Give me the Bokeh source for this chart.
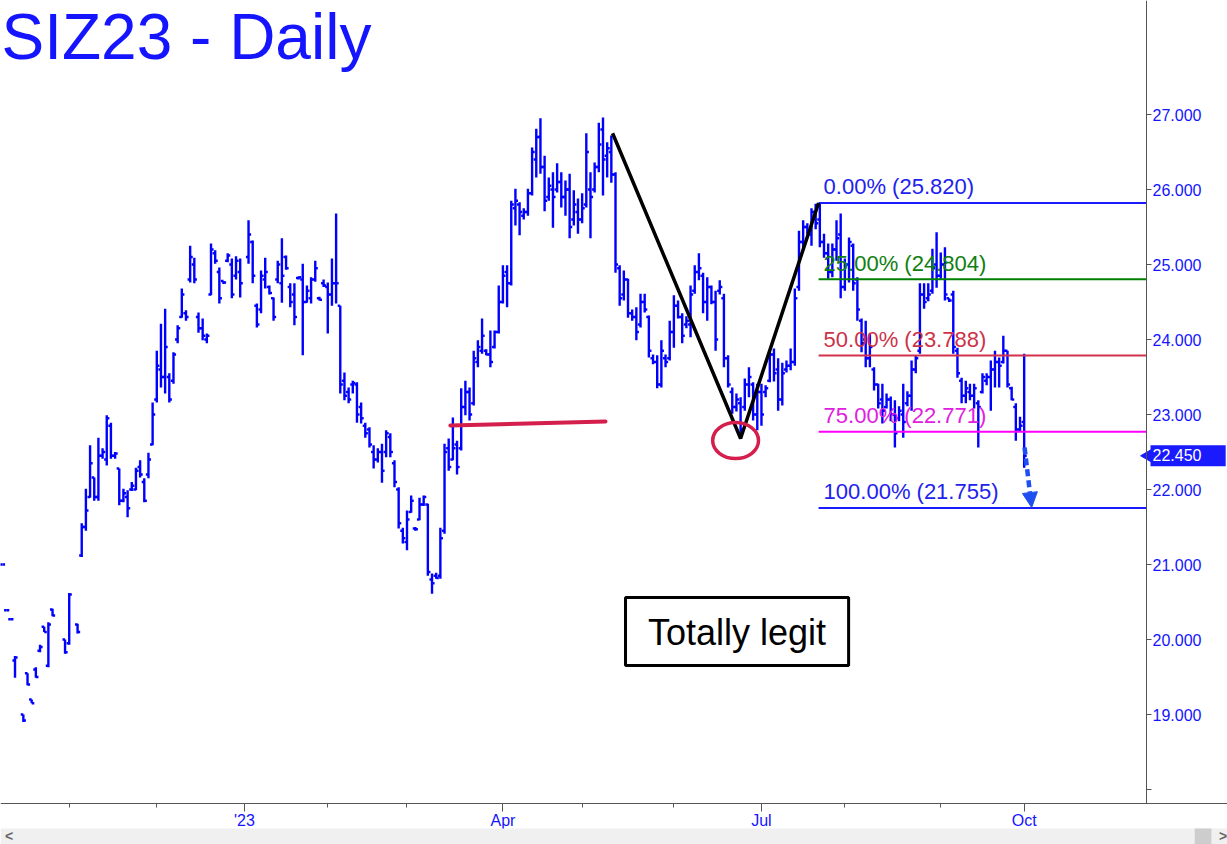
import numpy as np
import pandas as pd
from bokeh.plotting import figure
from bokeh.models import (Range1d, FixedTicker, Label, BoxAnnotation, Arrow,
                          NormalHead, PrintfTickFormatter, ColumnDataSource)
from bokeh.embed import file_html
from bokeh.resources import INLINE

# ---------------- data ----------------
holidays = ["2022-11-24", "2022-12-26", "2023-01-02", "2023-01-16", "2023-02-20",
            "2023-04-07", "2023-05-29", "2023-06-19", "2023-07-04", "2023-09-04"]
dates = pd.bdate_range("2022-10-10", "2023-10-02", freq="C", holidays=holidays)

opens = [
    21.00, 20.39, 20.27, 19.72, None, 19.00, 19.55, 19.20, 19.60, 19.85,
    20.17, 19.65, 20.40, None, None, 20.00, 19.95, None, 20.20, 21.12,
    21.50, 21.90, 22.16, 21.90, 22.45, 22.40, 22.85, 22.45, 22.28, 21.85,
    21.90, 22.00, 22.00, 22.30, 22.10, 22.20, 22.60, 23.20, 23.60, 23.50,
    23.50, 23.45, 24.00, 24.30, 24.35, 24.80, 25.00, 24.30, 24.15, 24.00,
    24.60, 25.15, 24.90, 24.78, 25.05, 25.00, 24.85, 24.90, None, 25.10,
    25.30, 24.45, 24.40, 24.80, 24.70, 24.55, 24.80, 24.75, 25.10, 24.70,
    24.60, 24.82, 24.80, 24.50, 24.55, 24.80, 24.55, 24.75, 24.70, 24.60,
    24.75, 24.45, 23.45, 23.30, 23.40, 23.40, 23.10, 22.85, 22.80, 22.50,
    22.40, 22.50, 22.50, 22.70, 22.35, 22.00, 21.45, 21.30, 21.70, 21.48,
    21.60, 21.80, 21.80, 20.80, 20.85, 20.85, 21.45, 22.55, 22.40, 22.60,
    22.55, 23.10, 23.30, 23.15, 23.70, 23.85, 23.85, 23.80, 23.90, 24.10,
    24.50, 24.90, 24.75, 25.75, 25.80, 25.65, 25.70, 25.95, 26.40, 26.70,
    26.30, 25.90, 26.00, 26.00, 26.10, 25.90, 26.00, 25.60, 25.70, 25.60,
    25.80, 26.00, 26.00, 26.30, 26.80, 26.45, 26.50, 26.20, 24.95, 24.60,
    24.80, 24.35, 24.30, 24.20, 24.50, 24.30, 23.75, 23.70, 23.40, 23.75,
    23.75, 24.10, 24.45, 24.30, 24.20, 24.20, 24.65, 24.90, 24.85, 24.50,
    24.70, 24.50, 24.65, 24.55, 23.75, 23.30, 23.10, 23.15, 23.10, 23.40,
    23.40, 23.00, 23.30, 23.30, 23.45, 23.80, 23.60, 23.20, 23.60, 23.65,
    23.70, 24.70, 25.30, 25.50, 25.40, 25.70, 25.60, 25.30, 25.15, 24.90,
    25.20, 25.40, 24.70, 25.00, 25.25, 24.80, 24.25, 24.00, 23.75, 23.60,
    23.40, 23.20, 23.10, 23.20, 23.00, 22.95, 23.00, 23.15, 23.25, 23.60,
    23.85, 24.60, 24.55, 24.65, 25.00, 24.85, 25.00, 24.55, 24.60, 23.85,
    23.45, 23.25, 23.30, 23.25, 23.15, 23.30, 23.45, 23.50, 23.60, 23.70,
    23.70, 23.85, 23.35, 23.10, 22.80, 22.90,
]
highs = [
    21.00, 20.39, 20.27, 19.78, None, 19.00, 19.55, 19.20, 19.63, 19.93,
    20.17, 20.23, 20.41, None, None, 20.00, 20.62, None, 20.21, 21.55,
    22.01, 22.59, 22.16, 22.69, 22.55, 22.99, 22.89, 22.50, 22.28, 22.01,
    21.99, 22.10, 22.29, 22.39, 22.15, 22.49, 23.16, 23.85, 24.21, 24.41,
    23.55, 23.83, 24.19, 24.68, 24.39, 25.25, 25.09, 24.36, 24.28, 24.08,
    25.28, 25.19, 24.96, 24.78, 25.15, 25.08, 25.11, 25.08, None, 25.59,
    25.32, 24.48, 24.92, 25.09, 24.72, 24.56, 25.05, 25.35, 25.12, 24.75,
    24.75, 24.84, 25.01, 24.72, 24.83, 25.05, 24.57, 24.80, 24.76, 25.08,
    25.68, 24.45, 23.56, 23.36, 23.45, 23.43, 23.16, 22.89, 22.83, 22.59,
    22.55, 22.61, 22.79, 22.75, 22.39, 22.03, 21.49, 21.72, 21.92, 21.50,
    21.89, 21.92, 21.81, 20.88, 20.89, 21.49, 22.61, 22.68, 22.96, 22.65,
    23.35, 23.45, 23.36, 23.85, 23.99, 24.28, 23.87, 24.12, 24.12, 24.72,
    24.99, 24.99, 25.85, 26.01, 25.83, 25.75, 26.01, 26.56, 26.81, 26.95,
    26.45, 26.16, 26.23, 26.35, 26.23, 26.12, 26.21, 25.99, 25.88, 25.95,
    26.75, 26.23, 26.36, 26.89, 26.96, 26.63, 26.72, 26.23, 24.99, 24.92,
    24.81, 24.40, 24.43, 24.61, 24.61, 24.32, 23.80, 23.79, 23.99, 23.80,
    24.25, 24.59, 24.52, 24.35, 24.31, 24.72, 24.99, 25.15, 24.89, 24.83,
    24.72, 24.65, 24.79, 24.61, 23.79, 23.36, 23.28, 23.23, 23.48, 23.63,
    23.43, 23.41, 23.41, 23.39, 23.85, 23.88, 23.75, 23.69, 23.72, 23.88,
    24.68, 25.45, 25.59, 25.55, 25.75, 25.81, 25.82, 25.41, 25.28, 25.28,
    25.59, 25.68, 25.08, 25.36, 25.28, 24.83, 24.28, 24.25, 24.08, 23.63,
    23.41, 23.41, 23.28, 23.24, 23.19, 23.11, 23.41, 23.31, 23.72, 23.79,
    24.75, 24.75, 24.75, 25.21, 25.43, 25.16, 25.23, 24.55, 24.65, 23.89,
    23.49, 23.45, 23.41, 23.41, 23.19, 23.55, 23.55, 23.72, 23.85, 23.76,
    24.05, 23.85, 23.37, 23.15, 22.97, 23.81,
]
lows = [
    21.00, 20.39, 20.27, 19.49, None, 18.90, 19.39, 19.15, 19.49, 19.83,
    20.10, 19.63, 20.31, None, None, 19.81, 19.93, None, 20.08, 21.10,
    21.45, 21.89, 21.85, 21.85, 22.41, 22.32, 22.41, 22.41, 21.79, 21.83,
    21.63, 21.98, 21.99, 22.16, 21.83, 22.15, 22.59, 23.16, 23.36, 23.28,
    23.16, 23.41, 23.95, 24.29, 24.25, 24.76, 24.75, 24.09, 23.99, 23.95,
    24.59, 25.01, 24.48, 24.74, 25.03, 24.55, 24.80, 24.56, None, 25.01,
    24.75, 24.16, 24.35, 24.68, 24.60, 24.25, 24.75, 24.49, 24.93, 24.43,
    24.19, 24.80, 23.79, 24.49, 24.48, 24.77, 24.52, 24.70, 24.08, 24.45,
    24.48, 23.28, 23.19, 23.15, 23.28, 22.89, 22.88, 22.69, 22.56, 22.28,
    22.36, 22.09, 22.43, 22.43, 22.03, 21.48, 21.28, 21.19, 21.69, 21.45,
    21.59, 21.78, 20.85, 20.61, 20.81, 20.81, 21.41, 22.25, 22.39, 22.20,
    22.52, 22.99, 22.92, 23.12, 23.63, 23.81, 23.79, 23.63, 23.88, 24.08,
    24.48, 24.43, 24.72, 25.52, 25.39, 25.60, 25.65, 25.92, 26.16, 26.21,
    25.71, 25.85, 25.49, 25.96, 25.76, 25.65, 25.35, 25.52, 25.41, 25.55,
    25.76, 25.35, 25.96, 26.23, 25.92, 26.16, 26.09, 24.89, 24.45, 24.52,
    24.29, 24.25, 23.99, 24.16, 24.36, 23.76, 23.67, 23.35, 23.36, 23.63,
    23.72, 23.89, 24.28, 23.95, 24.15, 24.03, 24.61, 24.79, 24.35, 24.25,
    24.47, 23.85, 24.60, 23.63, 23.36, 23.01, 23.04, 22.72, 23.05, 23.23,
    22.92, 22.79, 22.85, 23.23, 23.43, 23.44, 23.05, 23.12, 23.56, 23.59,
    23.65, 24.65, 25.21, 25.40, 25.25, 25.47, 25.23, 25.09, 24.81, 24.83,
    25.05, 24.55, 24.65, 24.76, 24.65, 24.25, 23.83, 23.63, 23.63, 23.32,
    23.08, 22.88, 23.08, 22.91, 22.56, 22.91, 22.69, 23.11, 23.05, 23.55,
    23.81, 24.41, 24.51, 24.61, 24.69, 24.81, 24.52, 24.50, 23.81, 23.49,
    23.15, 23.15, 23.19, 23.08, 22.56, 23.28, 23.39, 23.05, 23.36, 23.36,
    23.68, 23.36, 23.19, 22.65, 22.77, 22.29,
]
closes = [
    21.00, 20.39, 20.27, 19.76, None, 18.92, 19.40, 19.15, 19.50, 19.90,
    20.10, 20.20, 20.32, None, None, 19.83, 20.60, None, 20.10, 21.50,
    21.72, 22.35, 21.90, 22.45, 22.50, 22.95, 22.45, 22.48, 21.85, 21.95,
    21.75, 22.05, 22.25, 22.20, 21.85, 22.40, 23.00, 23.65, 23.50, 23.90,
    23.20, 23.80, 24.15, 24.60, 24.30, 25.10, 24.80, 24.15, 24.05, 24.05,
    25.20, 25.05, 24.55, 24.76, 25.12, 24.60, 25.05, 24.75, None, 25.40,
    24.85, 24.20, 24.85, 24.90, 24.62, 24.30, 25.00, 24.85, 24.95, 24.50,
    24.30, 24.83, 24.50, 24.65, 24.80, 24.95, 24.53, 24.72, 24.60, 24.75,
    24.75, 23.40, 23.25, 23.20, 23.42, 23.00, 22.95, 22.75, 22.60, 22.40,
    22.50, 22.25, 22.75, 22.50, 22.10, 21.55, 21.35, 21.60, 21.85, 21.47,
    21.80, 21.90, 20.90, 20.75, 20.82, 21.35, 22.50, 22.30, 22.55, 22.30,
    23.10, 23.30, 23.00, 23.75, 23.90, 24.05, 23.80, 23.70, 24.10, 24.50,
    24.85, 24.75, 25.80, 25.85, 25.70, 25.70, 25.95, 26.50, 26.70, 26.30,
    25.85, 26.05, 25.90, 26.10, 25.90, 26.00, 25.50, 25.80, 25.60, 25.75,
    26.50, 25.90, 26.30, 26.60, 26.40, 26.55, 26.20, 25.00, 24.55, 24.80,
    24.35, 24.30, 24.10, 24.50, 24.40, 23.85, 23.70, 23.40, 23.85, 23.70,
    24.10, 24.45, 24.30, 24.05, 24.25, 24.60, 24.90, 24.95, 24.50, 24.70,
    24.50, 24.00, 24.70, 23.75, 23.40, 23.10, 23.20, 22.80, 23.40, 23.50,
    23.00, 23.30, 23.00, 23.35, 23.80, 23.55, 23.20, 23.55, 23.65, 23.70,
    24.55, 25.30, 25.50, 25.45, 25.70, 25.55, 25.30, 25.15, 24.90, 25.20,
    25.35, 24.70, 25.00, 25.30, 24.75, 24.40, 23.95, 23.75, 23.90, 23.40,
    23.15, 23.05, 23.20, 23.00, 22.75, 23.05, 22.90, 23.25, 23.60, 23.75,
    24.60, 24.50, 24.60, 24.95, 24.85, 25.00, 24.60, 24.52, 23.90, 23.55,
    23.25, 23.35, 23.25, 23.35, 23.10, 23.50, 23.50, 23.60, 23.70, 23.65,
    23.85, 23.40, 23.20, 22.80, 22.85, 22.45,
]

price_ticks = [19, 20, 21, 22, 23, 24, 25, 26, 27]
price_minor_ticks = [18]
quarter_months = [1, 4, 7, 10]
quarter_labels = ["'23", "Apr", "Jul", "Oct"]

fib_pcts = ["0.00%", "25.00%", "50.00%", "75.00%", "100.00%"]
fib_levels = [25.820, 24.804, 23.788, 22.771, 21.755]
fib_colors = ["#1a1aff", "#008000", "#d2304c", "#ff00ff", "#1a1aff"]
fib_text_colors = ["#2222ee", "#108010", "#cc3348", "#e020e0", "#2222ee"]

swing_idx = [146.3, 177.0, 195.7]
swing_price = [26.75, 22.68, 25.82]
support_idx = [107.4, 144.6]
support_price = [22.853, 22.907]
circle_idx, circle_price = 175.8, 22.653
last_price = 22.450
arrow_idx = [245.1, 246.8]
arrow_price = [22.56, 21.76]

# ---------------- layout / styling constants ----------------
BLUE = "#1414ff"
BAR = "#0000ff"
RED = "#d41e4c"
AXIS = "#555555"
FONT = "Liberation Sans"

X0, X1 = -0.48, 293.76          # whole canvas width
Y0, Y1 = 17.2667, 28.52         # whole canvas height
AXIS_X = 274.34                 # price axis position
AXIS_Y = 17.8133                # time axis position
SCROLL_TOP = 17.48

p = figure(width=1227, height=844, x_range=Range1d(X0, X1), y_range=Range1d(Y0, Y1),
           y_axis_location="right", output_backend="svg", toolbar_location=None,
           min_border_left=0, min_border_top=0, min_border_right=0, min_border_bottom=0,
           title=None)
p.outline_line_color = None
p.xgrid.visible = False
p.ygrid.visible = False
p.background_fill_color = "white"
p.border_fill_color = "white"

# ---------------- OHLC bars ----------------
n = min(len(dates), len(highs))
xs = [i for i in range(n) if highs[i] is not None]
src = ColumnDataSource(dict(
    x=xs,
    xl=[i - 0.62 for i in xs],
    xr=[i + 0.62 for i in xs],
    o=[opens[i] for i in xs],
    h=[highs[i] for i in xs],
    l=[lows[i] for i in xs],
    c=[closes[i] for i in xs],
))
p.segment(x0="x", y0="l", x1="x", y1="h", source=src, line_color=BAR, line_width=2.4)
p.segment(x0="xl", y0="o", x1="x", y1="o", source=src, line_color=BAR, line_width=2.4)
p.segment(x0="x", y0="c", x1="xr", y1="c", source=src, line_color=BAR, line_width=2.4)

# ---------------- fib levels ----------------
p.segment(x0=[swing_idx[2]] * len(fib_levels), x1=[AXIS_X] * len(fib_levels),
          y0=fib_levels, y1=fib_levels, line_color=fib_colors, line_width=2)
for pct, lvl, col in zip(fib_pcts, fib_levels, fib_text_colors):
    p.add_layout(Label(x=196.9, y=lvl + 0.215, text=f"{pct} ({lvl:.3f})",
                       text_font=FONT, text_font_size="22px", text_color=col,
                       text_baseline="middle", text_align="left"))

# ---------------- annotations ----------------
p.line(support_idx, support_price, line_color=RED, line_width=4, line_cap="round")
p.line(swing_idx, swing_price, line_color="black", line_width=3.5)
p.ellipse(x=[circle_idx], y=[circle_price], width=11.0, height=0.48,
          fill_color=None, line_color=RED, line_width=3.5)

p.add_layout(Arrow(end=NormalHead(size=15, fill_color="#1f4ff0", line_color="#1f4ff0"),
                   x_start=arrow_idx[0], y_start=arrow_price[0],
                   x_end=arrow_idx[1], y_end=arrow_price[1],
                   line_color="#1f4ff0", line_width=4.5, line_dash="7 4"))

p.add_layout(BoxAnnotation(left=149.4, right=202.9, bottom=19.653, top=20.56,
                           fill_color="white", fill_alpha=1.0,
                           line_color="black", line_width=3, line_alpha=1.0))
p.add_layout(Label(x=176.15, y=20.1, text="Totally legit", text_font=FONT,
                   text_font_size="36px", text_color="black",
                   text_align="center", text_baseline="middle"))

p.add_layout(Label(x=-0.24, y=28.04, text="SIZ23 - Daily", text_font=FONT,
                   text_font_size="64px", text_color=BLUE, text_baseline="middle"))

# last-price marker on the price axis
p.scatter(x=[275.0], y=[last_price], marker="triangle", angle=np.pi / 2, size=15,
          fill_color="#1a1aff", line_color="#1a1aff")
p.add_layout(Label(x=275.3, y=last_price,
                   text=f"{last_price:.3f}\u00a0\u00a0\u00a0\u00a0\u00a0",
                   text_font=FONT, text_font_size="16px", text_color="white",
                   background_fill_color="#1a1aff", background_fill_alpha=1.0,
                   text_baseline="middle", text_align="left", padding=2))

# scrollbar strip under the time axis
p.add_layout(BoxAnnotation(top=SCROLL_TOP, fill_color="#f0f0f0", fill_alpha=1.0,
                           line_color=None))
p.add_layout(BoxAnnotation(left=285.9, right=289.9, top=SCROLL_TOP, fill_color="#cdcdcd",
                           fill_alpha=1.0, line_color=None))
p.add_layout(Label(x=0.6, y=17.375, text="<", text_font=FONT, text_font_size="14px",
                   text_font_style="bold", text_color="#666666", text_baseline="middle"))
p.add_layout(Label(x=291.7, y=17.375, text=">", text_font=FONT, text_font_size="14px",
                   text_font_style="bold", text_color="#666666", text_baseline="middle"))

# ---------------- axes ----------------
ya = p.yaxis[0]
ya.fixed_location = AXIS_X
ya.bounds = (AXIS_Y, Y1)
ya.ticker = FixedTicker(ticks=price_ticks, minor_ticks=price_minor_ticks)
ya.formatter = PrintfTickFormatter(format="%.3f")
ya.axis_line_color = AXIS
ya.major_tick_line_color = AXIS
ya.minor_tick_line_color = AXIS
ya.major_tick_out = 5
ya.major_tick_in = 0
ya.minor_tick_out = 5
ya.minor_tick_in = 0
ya.major_label_text_color = BLUE
ya.major_label_text_font = FONT
ya.major_label_text_font_size = "16px"
ya.major_label_standoff = 1

month_starts = [i for i in range(1, n) if dates[i].month != dates[i - 1].month]
major = [i for i in month_starts if dates[i].month in quarter_months]
overrides = {i: quarter_labels[quarter_months.index(dates[i].month)] for i in major}

xa = p.xaxis[0]
xa.fixed_location = AXIS_Y
xa.ticker = FixedTicker(ticks=major, minor_ticks=month_starts)
xa.major_label_overrides = overrides
xa.axis_line_color = AXIS
xa.major_tick_line_color = AXIS
xa.minor_tick_line_color = AXIS
xa.major_tick_out = 8
xa.major_tick_in = 0
xa.minor_tick_out = 4
xa.minor_tick_in = 0
xa.major_label_text_color = BLUE
xa.major_label_text_font = FONT
xa.major_label_text_font_size = "16px"
xa.major_label_standoff = 0

open("out.html", "w").write(file_html(p, INLINE, "SIZ23 - Daily"))
